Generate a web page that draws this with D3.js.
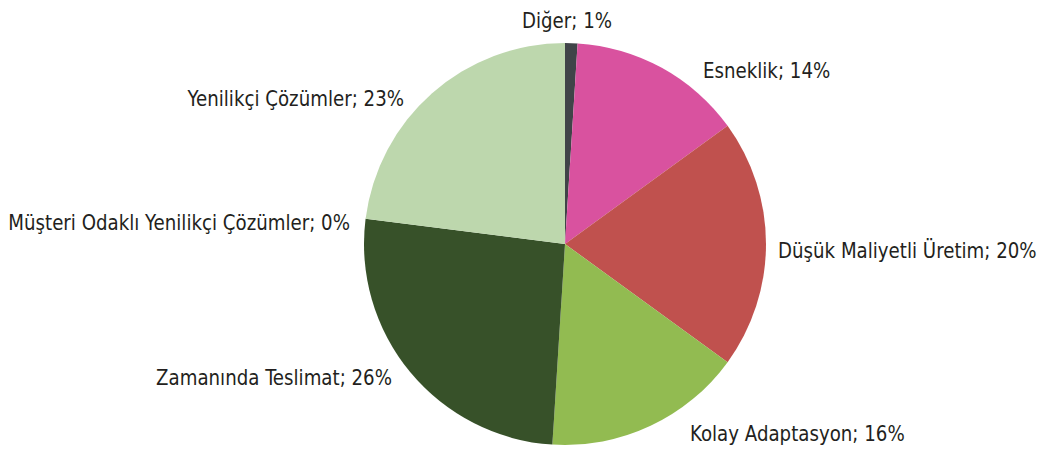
<!DOCTYPE html>
<html>
<head>
<meta charset="utf-8">
<script src="https://cdn.jsdelivr.net/npm/d3@7"></script>
<style>
  html, body { margin: 0; padding: 0; background: #ffffff; }
  svg { display: block; }
  .lbl { font-family: "DejaVu Sans Condensed", "Liberation Sans Narrow", "Roboto", sans-serif; font-stretch: condensed; font-size: 22px; fill: #231f20; }
</style>
</head>
<body>
<svg id="chart" width="1037" height="455"></svg>
<script>
// Slice names, shares (%) and fills, clockwise from 12 o'clock
const categories = ["Diğer", "Esneklik", "Düşük Maliyetli Üretim", "Kolay Adaptasyon", "Zamanında Teslimat", "Müşteri Odaklı Yenilikçi Çözümler", "Yenilikçi Çözümler"];
const shares = [1, 14, 20, 16, 26, 0, 23];
const colors = ["#404448", "#d9529f", "#c0514e", "#92bb51", "#375129", "#4f81bd", "#bdd7ad"];

// Label anchor points and text alignment
const labelAnchors = ["middle", "start", "start", "start", "end", "end", "end"];
const labelPoints = [
  [567, 28], [703, 78], [778, 258], [690, 441], [392, 385], [350, 230], [404, 106]
];
const squeeze = 0.92; // narrow lettering

const svg = d3.select("#chart");
const cx = 565, cy = 244, radius = 201;

const pie = d3.pie().sort(null).value(d => d)(shares);
const arc = d3.arc().innerRadius(0).outerRadius(radius);

const g = svg.append("g").attr("transform", `translate(${cx},${cy})`);
g.selectAll("path")
  .data(pie)
  .join("path")
  .attr("d", arc)
  .attr("fill", (d, i) => colors[i]);

const fmt = d3.format(".0f");
svg.selectAll("text.lbl")
  .data(pie)
  .join("text")
  .attr("class", "lbl")
  .attr("transform", (d, i) => `translate(${labelPoints[i][0]},${labelPoints[i][1]}) scale(${squeeze},1)`)
  .attr("text-anchor", (d, i) => labelAnchors[i])
  .text((d, i) => `${categories[i]}; ${fmt(shares[i])}%`);
</script>
</body>
</html>
